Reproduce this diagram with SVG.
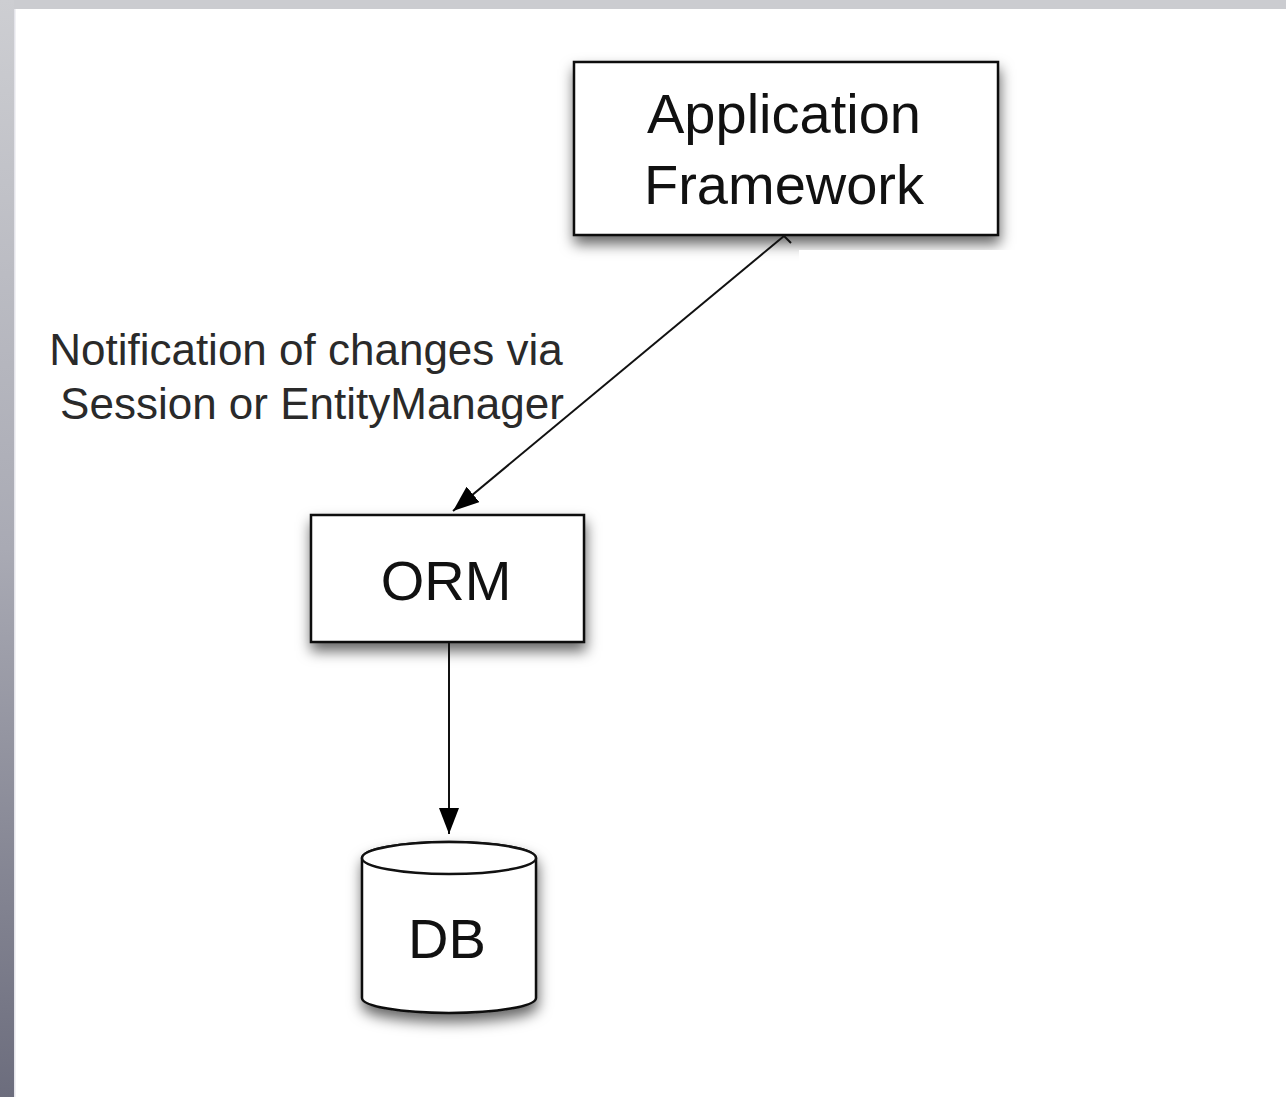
<svg xmlns="http://www.w3.org/2000/svg" width="1286" height="1097" viewBox="0 0 1286 1097">
<defs>
<linearGradient id="side" x1="0" y1="0" x2="0" y2="1">
<stop offset="0" stop-color="#cdced2"/>
<stop offset="0.5" stop-color="#a9aab4"/>
<stop offset="1" stop-color="#6c6d7d"/>
</linearGradient>
<filter id="sh" x="-20%" y="-20%" width="140%" height="160%">
<feDropShadow dx="1" dy="8" stdDeviation="7" flood-color="#000" flood-opacity="0.6"/>
</filter>
<marker id="ah2" viewBox="0 0 26 20" refX="26" refY="10" markerWidth="26" markerHeight="20" markerUnits="userSpaceOnUse" orient="auto">
<path d="M0,0 L26,10 L0,20 Z" fill="#000"/>
</marker>
<style>
.box{fill:#fff;stroke:#111;stroke-width:2.5}
.node{font-family:"Liberation Sans",Arial,sans-serif;font-size:56px;fill:#111;text-anchor:middle}
.lbl{font-family:"Liberation Sans",Arial,sans-serif;font-size:44px;fill:#2a2a2a;text-anchor:middle}
.edge{stroke:#111;stroke-width:2;fill:none}
</style>
</defs>
<rect x="0" y="0" width="1286" height="1097" fill="#fff"/>
<rect x="0" y="0" width="1286" height="9" fill="#cbccd0"/>
<rect x="0" y="0" width="14" height="1097" fill="url(#side)"/>
<rect x="14" y="9" width="1.5" height="1088" fill="#e4e4ea"/>

<g id="app">
<rect class="box" x="574" y="62" width="424" height="173" filter="url(#sh)"/>
<text class="node" x="784" y="133">Application</text>
<text class="node" x="784" y="204">Framework</text>
</g>
<rect x="799" y="250" width="230" height="30" fill="#fff"/>

<g id="orm">
<rect class="box" x="311" y="515" width="273" height="127" filter="url(#sh)"/>
<text class="node" x="446" y="600">ORM</text>
</g>

<g id="db">
<path class="box" d="M362,858 L362,998 A87,15 0 0 0 536,998 L536,858 A87,16 0 0 0 362,858 Z" filter="url(#sh)"/>
<ellipse cx="449" cy="858" rx="87" ry="16" fill="#fff" stroke="#111" stroke-width="2.5"/>
<text class="node" x="447" y="958">DB</text>
</g>

<g id="connectors">
<path class="edge" d="M784,236 L453,511" marker-end="url(#ah2)"/>
<path class="edge" d="M784,236 L791,243"/>
<path class="edge" d="M449,643 L449,834" marker-end="url(#ah2)"/>
</g>

<g id="label">
<text class="lbl" x="306" y="365">Notification of changes via</text>
<text class="lbl" x="312" y="419">Session or EntityManager</text>
</g>
</svg>
